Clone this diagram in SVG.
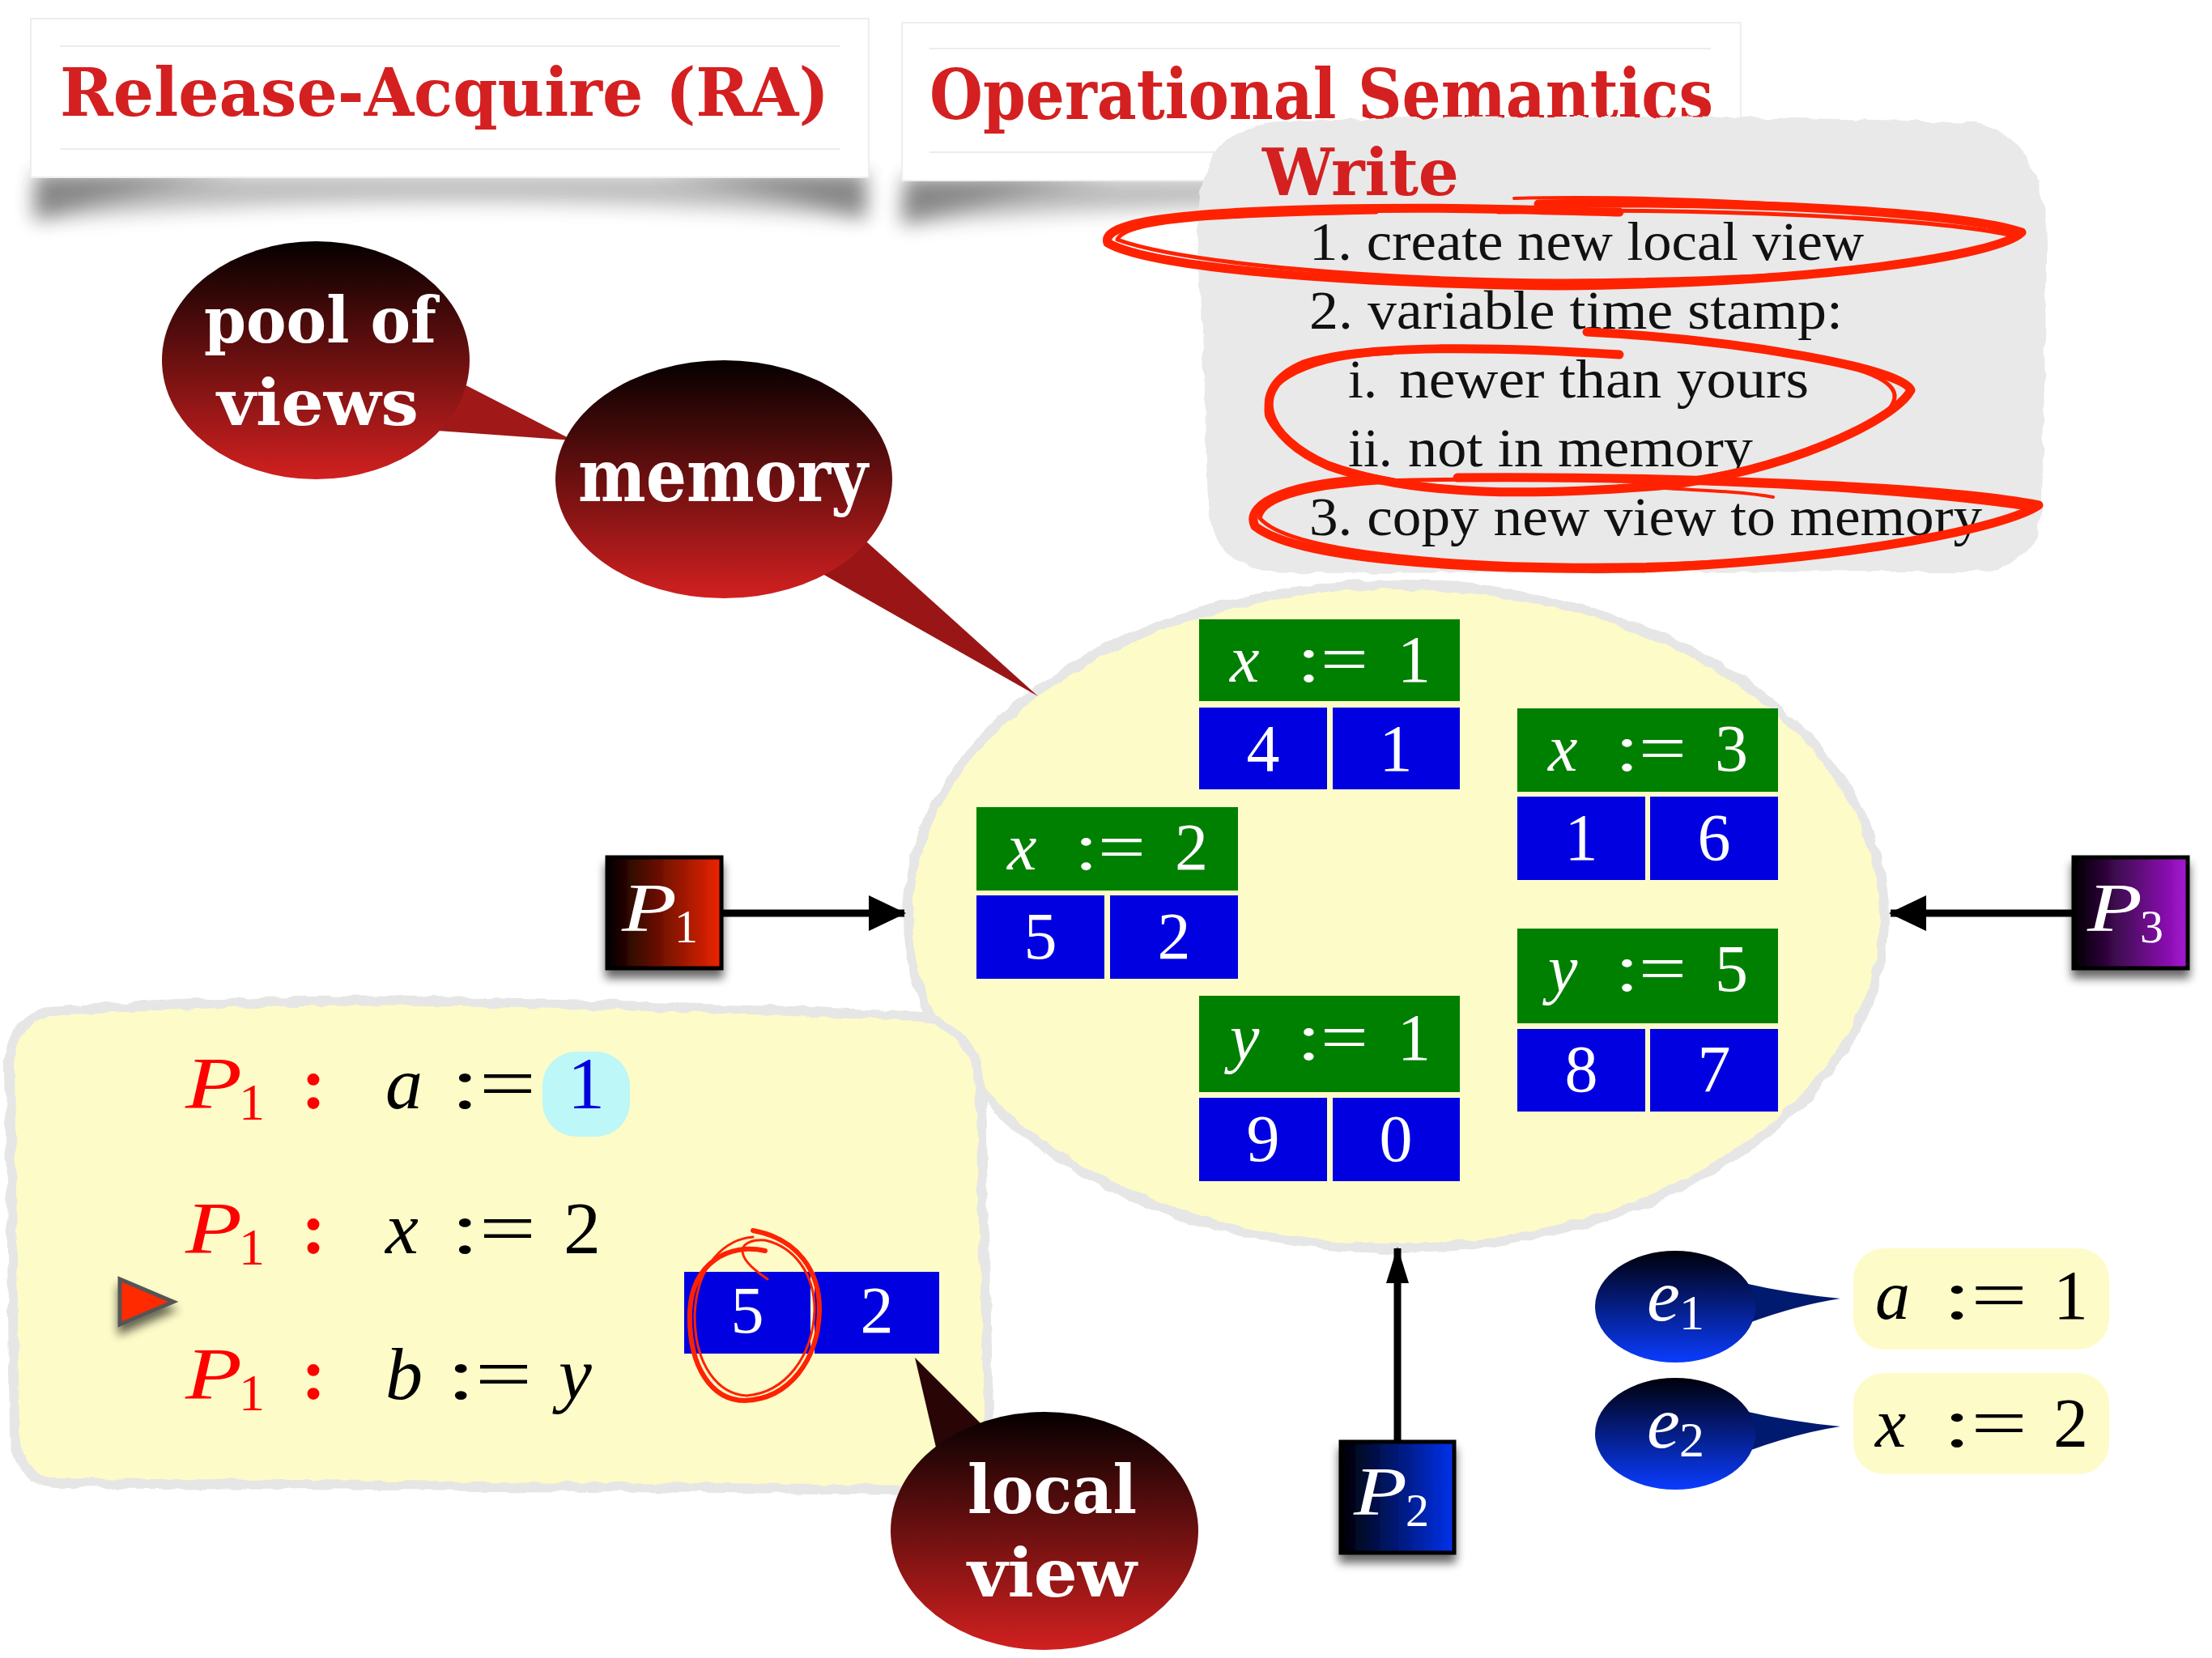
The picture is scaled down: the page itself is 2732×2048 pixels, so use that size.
<svg xmlns="http://www.w3.org/2000/svg" width="2732" height="2048" viewBox="0 0 2732 2048">
<style>
.title{font-family:"DejaVu Serif","Liberation Serif",serif;font-weight:bold;fill:#d42020}
.bub{font-family:"DejaVu Serif","Liberation Serif",serif;font-weight:bold;fill:#fff}
.list{font-family:"Liberation Serif","DejaVu Serif",serif;fill:#111;font-size:68px}
.m{font-family:"Liberation Serif","DejaVu Serif",serif}
.it{font-style:italic}
.w{fill:#fff}
.green{fill:#008000}
.blue{fill:#0000e0}
.scr{fill:none;stroke:#ff2200;stroke-linecap:round;stroke-linejoin:round}
.conn{stroke:#000;stroke-width:9;fill:none}
.soft{fill:#fdfbc8;stroke:#e6e6e6;stroke-width:12}
.tsh{fill:#444;filter:url(#blur)}
</style>
<defs>
<linearGradient id="gRed" x1="0" y1="0" x2="0" y2="1"><stop offset="0" stop-color="#050000"/><stop offset="1" stop-color="#d22020"/></linearGradient>
<linearGradient id="gBlue" x1="0" y1="0" x2="0" y2="1"><stop offset="0" stop-color="#00000a"/><stop offset="1" stop-color="#0a3cff"/></linearGradient>
<linearGradient id="gP1" x1="0" y1="0" x2="1" y2="0"><stop offset="0" stop-color="#000"/><stop offset="1" stop-color="#ee2400"/></linearGradient>
<linearGradient id="gP2" x1="0" y1="0" x2="1" y2="0"><stop offset="0" stop-color="#000"/><stop offset="1" stop-color="#0032ee"/></linearGradient>
<linearGradient id="gP3" x1="0" y1="0" x2="1" y2="0"><stop offset="0" stop-color="#000"/><stop offset="1" stop-color="#a614d4"/></linearGradient>
<filter id="sh" x="-20%" y="-20%" width="140%" height="160%"><feGaussianBlur in="SourceAlpha" stdDeviation="6"/><feOffset dy="10"/><feComponentTransfer><feFuncA type="linear" slope="0.6"/></feComponentTransfer><feMerge><feMergeNode/><feMergeNode in="SourceGraphic"/></feMerge></filter>
<filter id="blur" x="-10%" y="-60%" width="120%" height="220%"><feGaussianBlur stdDeviation="12"/></filter>
<filter id="rough" x="-5%" y="-5%" width="110%" height="110%"><feTurbulence type="fractalNoise" baseFrequency="0.04" numOctaves="2" seed="4"/><feDisplacementMap in="SourceGraphic" scale="9" xChannelSelector="R" yChannelSelector="G"/></filter>
</defs>
<rect width="2732" height="2048" fill="#fff"/>

<!-- title 1 -->
<g id="title-ra">
<path class="tsh" opacity="0.35" d="M45,215 L1068,215 L1070,270 Q560,228 40,272 Z"/>
<path class="tsh" opacity="0.45" d="M45,215 L300,215 Q150,235 45,270 Z"/>
<path class="tsh" opacity="0.45" d="M1068,215 L810,215 Q960,235 1068,268 Z"/>
<rect x="38" y="23" width="1035" height="196" fill="#fff" stroke="#eee" stroke-width="2"/>
<line x1="74" y1="57" x2="1038" y2="57" stroke="#ececec" stroke-width="2"/>
<line x1="74" y1="184" x2="1038" y2="184" stroke="#ececec" stroke-width="2"/>
<text class="title" x="74" y="143" font-size="82" textLength="950" lengthAdjust="spacingAndGlyphs">Release-Acquire (RA)</text>
</g>

<!-- title 2 -->
<g id="title-os">
<path class="tsh" opacity="0.35" d="M1120,220 L2145,220 L2148,275 Q1630,232 1112,277 Z"/>
<path class="tsh" opacity="0.45" d="M1118,220 L1380,220 Q1230,240 1116,275 Z"/>
<rect x="1114" y="28" width="1036" height="195" fill="#fff" stroke="#eee" stroke-width="2"/>
<line x1="1148" y1="60" x2="2113" y2="60" stroke="#ececec" stroke-width="2"/>
<line x1="1148" y1="188" x2="2113" y2="188" stroke="#ececec" stroke-width="2"/>
<text class="title" x="1148" y="147" font-size="86" textLength="968" lengthAdjust="spacingAndGlyphs">Operational Semantics</text>
</g>

<!-- write box -->
<g id="write-box">
<path d="M1580,150 C1900,140 2250,144 2440,152 C2505,162 2530,230 2528,320 L2522,620 C2520,690 2480,708 2420,706 L1590,708 C1525,706 1495,680 1492,620 L1480,300 C1476,200 1505,155 1580,150 Z" fill="#e9e9e9" filter="url(#rough)"/>
<text class="title" x="1559" y="241" font-size="80" textLength="243" lengthAdjust="spacingAndGlyphs">Write</text>
<text class="list" x="1617" y="321" textLength="685" lengthAdjust="spacingAndGlyphs">1. create new local view</text>
<text class="list" x="1617" y="406" textLength="659" lengthAdjust="spacingAndGlyphs">2. variable time stamp:</text>
<text class="list" x="1665" y="491">i.</text>
<text class="list" x="1728" y="491" textLength="506" lengthAdjust="spacingAndGlyphs">newer than yours</text>
<text class="list" x="1665" y="576">ii.</text>
<text class="list" x="1739" y="576" textLength="426" lengthAdjust="spacingAndGlyphs">not in memory</text>
<text class="list" x="1617" y="661" textLength="831" lengthAdjust="spacingAndGlyphs">3. copy new view to memory</text>
<g id="scribbles">
<path class="scr" stroke-width="11" d="M1900,252 C2150,247 2420,262 2497,287 C2470,315 2250,350 1923,353 C1650,350 1420,330 1368,300 C1360,275 1450,262 1650,258 C1780,256 1850,258 2000,262"/>
<path class="scr" stroke-width="5" d="M1850,262 C2100,255 2400,270 2490,292 C2420,330 2200,345 1930,347 C1700,346 1460,325 1380,296 C1390,272 1500,266 1700,262"/>
<path class="scr" stroke-width="4" d="M1870,245 C2050,240 2300,255 2420,272"/>
<path class="scr" stroke-width="11" d="M2000,438 C1850,428 1680,425 1610,450 C1540,480 1560,540 1640,575 C1750,615 1900,612 2050,600 C2200,585 2340,520 2360,482 C2350,455 2150,420 1960,410"/>
<path class="scr" stroke-width="5" d="M1720,436 C1620,440 1555,470 1565,515 C1590,570 1700,600 1850,606 C2000,610 2180,590 2300,530 C2370,490 2345,465 2250,445"/>
<path class="scr" stroke-width="4" d="M2000,600 C2080,605 2150,606 2190,614"/>
<path class="scr" stroke-width="11" d="M1800,590 C2050,588 2400,600 2518,624 C2480,650 2300,690 2028,702 C1800,705 1600,690 1550,650 C1535,620 1600,595 1700,592"/>
<path class="scr" stroke-width="5" d="M1650,596 C1900,585 2300,598 2505,628 C2450,660 2250,695 2000,698 C1780,700 1590,680 1556,640 C1560,615 1620,600 1720,595"/>
</g>
</g>

<!-- memory pool -->
<g id="memory-pool">
<ellipse class="soft" cx="1724" cy="1132" rx="603" ry="410" filter="url(#rough)"/>
</g>

<!-- local program box -->
<g id="program-box">
<path class="soft" d="M60,1250 Q300,1232 600,1238 Q900,1244 1140,1256 Q1198,1272 1210,1330 L1222,1780 Q1218,1835 1160,1840 L70,1832 Q20,1828 18,1770 L12,1320 Q14,1258 60,1250 Z" filter="url(#rough)"/>
<g class="m" font-size="92">
<text x="229" y="1369" class="it" fill="#ff0000" textLength="70" lengthAdjust="spacingAndGlyphs">P</text><text x="295" y="1383" font-size="64" fill="#ff0000">1</text>
<text x="372" y="1369" fill="#ff0000" font-weight="bold">:</text>
<text x="476" y="1369" class="it">a</text>
<text x="557" y="1369" textLength="105" lengthAdjust="spacingAndGlyphs">:=</text>
<rect x="670" y="1299" width="108" height="105" rx="42" fill="#bdf7f7"/>
<text x="724" y="1369" fill="#0000e0" text-anchor="middle">1</text>
<text x="229" y="1548" class="it" fill="#ff0000" textLength="70" lengthAdjust="spacingAndGlyphs">P</text><text x="295" y="1562" font-size="64" fill="#ff0000">1</text>
<text x="372" y="1548" fill="#ff0000" font-weight="bold">:</text>
<text x="476" y="1548" class="it">x</text>
<text x="557" y="1548" textLength="105" lengthAdjust="spacingAndGlyphs">:=</text>
<text x="696" y="1548">2</text>
<text x="229" y="1728" class="it" fill="#ff0000" textLength="70" lengthAdjust="spacingAndGlyphs">P</text><text x="295" y="1742" font-size="64" fill="#ff0000">1</text>
<text x="372" y="1728" fill="#ff0000" font-weight="bold">:</text>
<text x="476" y="1728" class="it">b</text>
<text x="552" y="1728" textLength="105" lengthAdjust="spacingAndGlyphs">:=</text>
<text x="690" y="1728" class="it">y</text>
</g>
<polygon points="148,1580 214,1608 148,1636" fill="#ff2a00" stroke="#555" stroke-width="5" filter="url(#sh)"/>
</g>

<!-- local view cells -->
<g id="local-view-cells">
<rect class="blue" x="845" y="1571" width="156" height="101"/>
<rect class="blue" x="1006" y="1571" width="154" height="101"/>
<text class="m w" x="923" y="1646" font-size="82" text-anchor="middle">5</text>
<text class="m w" x="1083" y="1646" font-size="82" text-anchor="middle">2</text>
<path class="scr" stroke-width="6" d="M945,1545 C900,1535 855,1560 852,1620 C850,1690 880,1730 920,1730 C975,1728 1010,1680 1012,1620 C1013,1570 985,1530 930,1520"/>
<path class="scr" stroke-width="3" d="M930,1528 C898,1530 860,1560 858,1625 C858,1688 888,1722 922,1724 C970,1720 1004,1676 1006,1618 C1006,1572 980,1540 945,1532 C915,1530 900,1548 948,1580"/>
</g>

<!-- message boxes -->
<g id="msg-x1">
<rect class="green" x="1481" y="765" width="322" height="101"/>
<rect class="blue" x="1481" y="874" width="158" height="101"/>
<rect class="blue" x="1646" y="874" width="157" height="101"/>
<g class="m w" font-size="82"><text x="1519" y="842" class="it">x</text><text x="1602" y="842" textLength="88" lengthAdjust="spacingAndGlyphs">:=</text><text x="1726" y="842">1</text>
<text x="1560" y="952" text-anchor="middle">4</text><text x="1724" y="952" text-anchor="middle">1</text></g>
</g>
<g id="msg-x3">
<rect class="green" x="1874" y="875" width="322" height="103"/>
<rect class="blue" x="1874" y="984" width="158" height="103"/>
<rect class="blue" x="2038" y="984" width="158" height="103"/>
<g class="m w" font-size="82"><text x="1912" y="952" class="it">x</text><text x="1995" y="952" textLength="88" lengthAdjust="spacingAndGlyphs">:=</text><text x="2118" y="952">3</text>
<text x="1953" y="1062" text-anchor="middle">1</text><text x="2117" y="1062" text-anchor="middle">6</text></g>
</g>
<g id="msg-x2">
<rect class="green" x="1206" y="997" width="323" height="103"/>
<rect class="blue" x="1206" y="1106" width="158" height="103"/>
<rect class="blue" x="1371" y="1106" width="158" height="103"/>
<g class="m w" font-size="82"><text x="1244" y="1074" class="it">x</text><text x="1327" y="1074" textLength="88" lengthAdjust="spacingAndGlyphs">:=</text><text x="1451" y="1074">2</text>
<text x="1285" y="1184" text-anchor="middle">5</text><text x="1450" y="1184" text-anchor="middle">2</text></g>
</g>
<g id="msg-y1">
<rect class="green" x="1481" y="1230" width="322" height="119"/>
<rect class="blue" x="1481" y="1356" width="158" height="103"/>
<rect class="blue" x="1646" y="1356" width="157" height="103"/>
<g class="m w" font-size="82"><text x="1519" y="1309" class="it">y</text><text x="1602" y="1309" textLength="88" lengthAdjust="spacingAndGlyphs">:=</text><text x="1726" y="1309">1</text>
<text x="1560" y="1434" text-anchor="middle">9</text><text x="1724" y="1434" text-anchor="middle">0</text></g>
</g>
<g id="msg-y5">
<rect class="green" x="1874" y="1147" width="322" height="117"/>
<rect class="blue" x="1874" y="1271" width="158" height="102"/>
<rect class="blue" x="2038" y="1271" width="158" height="102"/>
<g class="m w" font-size="82"><text x="1912" y="1224" class="it">y</text><text x="1995" y="1224" textLength="88" lengthAdjust="spacingAndGlyphs">:=</text><text x="2118" y="1224">5</text>
<text x="1953" y="1348" text-anchor="middle">8</text><text x="2117" y="1348" text-anchor="middle">7</text></g>
</g>

<!-- bubbles -->
<g id="bubble-pool">
<path d="M560,468 L708,544 L540,532 Z" fill="#a01818"/>
<ellipse cx="390" cy="445" rx="190" ry="147" fill="url(#gRed)"/>
<text class="bub" x="252" y="423" font-size="78" textLength="287" lengthAdjust="spacingAndGlyphs">pool of</text>
<text class="bub" x="268" y="525" font-size="78" textLength="249" lengthAdjust="spacingAndGlyphs">views</text>
</g>
<g id="bubble-memory">
<path d="M1060,660 L1282,860 L1000,700 Z" fill="#9a1616"/>
<ellipse cx="894" cy="592" rx="208" ry="147" fill="url(#gRed)"/>
<text class="bub" x="714" y="619" font-size="90" textLength="358" lengthAdjust="spacingAndGlyphs">memory</text>
</g>
<g id="bubble-local">
<path d="M1228,1775 L1130,1677 L1160,1805 Z" fill="#2a0505"/>
<ellipse cx="1290" cy="1891" rx="190" ry="147" fill="url(#gRed)"/>
<text class="bub" x="1195" y="1869" font-size="82" textLength="209" lengthAdjust="spacingAndGlyphs">local</text>
<text class="bub" x="1195" y="1972" font-size="82" textLength="209" lengthAdjust="spacingAndGlyphs">view</text>
</g>
<g id="bubble-e1">
<path d="M2150,1584 Q2210,1598 2273,1604 Q2220,1612 2160,1634 Z" fill="#001a70"/>
<ellipse cx="2069" cy="1614" rx="99" ry="69" fill="url(#gBlue)"/>
<text class="m it w" x="2034" y="1631" font-size="92">e</text><text class="m w" x="2074" y="1642" font-size="62">1</text>
</g>
<g id="bubble-e2">
<path d="M2150,1742 Q2210,1756 2273,1762 Q2220,1770 2160,1792 Z" fill="#001a70"/>
<ellipse cx="2069" cy="1771" rx="99" ry="69" fill="url(#gBlue)"/>
<text class="m it w" x="2034" y="1788" font-size="92">e</text><text class="m w" x="2074" y="1799" font-size="62">2</text>
</g>
<g id="event-a1">
<rect x="2289" y="1542" width="316" height="125" rx="38" fill="#fdfbc8"/>
<g class="m" font-size="86"><text x="2316" y="1629" class="it">a</text><text x="2400" y="1629" textLength="104" lengthAdjust="spacingAndGlyphs">:=</text><text x="2536" y="1629">1</text></g>
</g>
<g id="event-x2">
<rect x="2289" y="1696" width="316" height="125" rx="38" fill="#fdfbc8"/>
<g class="m" font-size="86"><text x="2316" y="1787" class="it">x</text><text x="2400" y="1787" textLength="104" lengthAdjust="spacingAndGlyphs">:=</text><text x="2536" y="1787">2</text></g>
</g>

<!-- processes -->
<g id="proc-P1" filter="url(#sh)">
<rect x="750" y="1059" width="141" height="137" fill="url(#gP1)" stroke="#000" stroke-width="5"/>
<text class="m it w" x="768" y="1150" font-size="84" textLength="68" lengthAdjust="spacingAndGlyphs">P</text><text class="m w" x="833" y="1164" font-size="58">1</text>
</g>
<g id="proc-P3" filter="url(#sh)">
<rect x="2561" y="1059" width="141" height="137" fill="url(#gP3)" stroke="#000" stroke-width="5"/>
<text class="m it w" x="2578" y="1150" font-size="84" textLength="68" lengthAdjust="spacingAndGlyphs">P</text><text class="m w" x="2643" y="1164" font-size="58">3</text>
</g>
<g id="proc-P2" filter="url(#sh)">
<rect x="1656" y="1781" width="140" height="137" fill="url(#gP2)" stroke="#000" stroke-width="5"/>
<text class="m it w" x="1672" y="1871" font-size="84" textLength="66" lengthAdjust="spacingAndGlyphs">P</text><text class="m w" x="1736" y="1885" font-size="58">2</text>
</g>

<!-- connectors -->
<g id="connectors">
<line x1="893" y1="1128" x2="1117" y2="1128" class="conn"/>
<path d="M1073,1106 L1119,1128 L1073,1150 Z" fill="#000"/>
<line x1="2559" y1="1128" x2="2335" y2="1128" class="conn"/>
<path d="M2379,1106 L2333,1128 L2379,1150 Z" fill="#000"/>
<line x1="1726" y1="1779" x2="1726" y2="1542" class="conn" stroke-width="7"/>
<path d="M1712,1585 L1726,1540 L1740,1585 Z" fill="#000"/>
</g>
</svg>
